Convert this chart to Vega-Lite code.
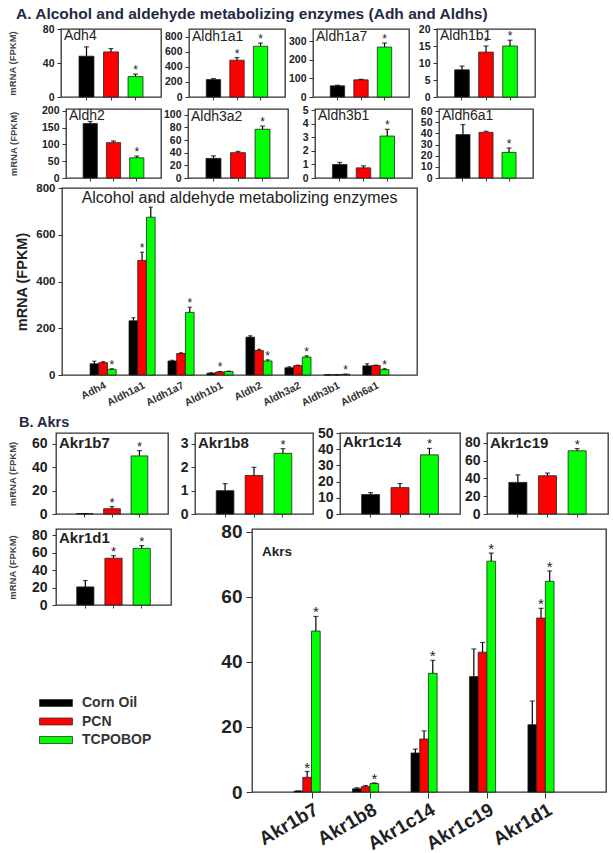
{
"$schema": "https://vega.github.io/schema/vega-lite/v6.json",
"padding": {"left": 0, "top": 6, "right": 0, "bottom": 0},
"config": {
 "font": "Liberation Sans",
 "view": {"stroke": "#333", "strokeWidth": 1.3},
 "axis": {"domain": false, "grid": false, "tickColor": "#333", "tickSize": 4, "labelColor": "#222", "labelFontWeight": "bold", "titleColor": "#333", "titleFontWeight": "bold", "labelPadding": 3},
 "legend": {"orient": "none", "legendX": 48, "legendY": 667, "symbolType": "M-2.5,-0.53H2.5V0.53H-2.5Z", "symbolSize": 174, "symbolStrokeColor": "#333", "symbolStrokeWidth": 0.8, "labelFontSize": 14, "labelFontWeight": "bold", "labelColor": "#333", "labelOffset": 19, "rowPadding": 4.5, "padding": 0},
 "title": {"color": "#222"}
},
"datasets": {"d": [
 {"sec":"A","gene":"Adh4","trt":"Corn Oil","value":48,"upper":59,"star":"","bigstar":""},
 {"sec":"A","gene":"Adh4","trt":"PCN","value":53,"upper":57,"star":"","bigstar":""},
 {"sec":"A","gene":"Adh4","trt":"TCPOBOP","value":24,"upper":27,"star":"*","bigstar":"*"},
 {"sec":"A","gene":"Aldh1a1","trt":"Corn Oil","value":232,"upper":245,"star":"","bigstar":""},
 {"sec":"A","gene":"Aldh1a1","trt":"PCN","value":490,"upper":525,"star":"*","bigstar":"*"},
 {"sec":"A","gene":"Aldh1a1","trt":"TCPOBOP","value":675,"upper":718,"star":"*","bigstar":"*"},
 {"sec":"A","gene":"Aldh1a7","trt":"Corn Oil","value":60,"upper":63,"star":"","bigstar":""},
 {"sec":"A","gene":"Aldh1a7","trt":"PCN","value":92,"upper":95,"star":"","bigstar":""},
 {"sec":"A","gene":"Aldh1a7","trt":"TCPOBOP","value":268,"upper":290,"star":"*","bigstar":"*"},
 {"sec":"A","gene":"Aldh1b1","trt":"Corn Oil","value":8,"upper":9.1,"star":"","bigstar":""},
 {"sec":"A","gene":"Aldh1b1","trt":"PCN","value":13.2,"upper":15,"star":"*","bigstar":"*"},
 {"sec":"A","gene":"Aldh1b1","trt":"TCPOBOP","value":15,"upper":16.7,"star":"*","bigstar":""},
 {"sec":"A","gene":"Aldh2","trt":"Corn Oil","value":162,"upper":168,"star":"","bigstar":""},
 {"sec":"A","gene":"Aldh2","trt":"PCN","value":105,"upper":110,"star":"","bigstar":""},
 {"sec":"A","gene":"Aldh2","trt":"TCPOBOP","value":60,"upper":65,"star":"*","bigstar":"*"},
 {"sec":"A","gene":"Aldh3a2","trt":"Corn Oil","value":31,"upper":35,"star":"","bigstar":""},
 {"sec":"A","gene":"Aldh3a2","trt":"PCN","value":40,"upper":42,"star":"","bigstar":""},
 {"sec":"A","gene":"Aldh3a2","trt":"TCPOBOP","value":77,"upper":82,"star":"*","bigstar":"*"},
 {"sec":"A","gene":"Aldh3b1","trt":"Corn Oil","value":1.0,"upper":1.15,"star":"","bigstar":""},
 {"sec":"A","gene":"Aldh3b1","trt":"PCN","value":0.75,"upper":0.9,"star":"","bigstar":""},
 {"sec":"A","gene":"Aldh3b1","trt":"TCPOBOP","value":3.1,"upper":3.6,"star":"*","bigstar":"*"},
 {"sec":"A","gene":"Aldh6a1","trt":"Corn Oil","value":39,"upper":48,"star":"","bigstar":""},
 {"sec":"A","gene":"Aldh6a1","trt":"PCN","value":41,"upper":42,"star":"","bigstar":""},
 {"sec":"A","gene":"Aldh6a1","trt":"TCPOBOP","value":23,"upper":27,"star":"*","bigstar":"*"},
 {"sec":"B","gene":"Akr1b7","trt":"Corn Oil","value":0.3,"upper":0.3,"star":"","bigstar":""},
 {"sec":"B","gene":"Akr1b7","trt":"PCN","value":4.5,"upper":6.3,"star":"*","bigstar":"*"},
 {"sec":"B","gene":"Akr1b7","trt":"TCPOBOP","value":49.5,"upper":54,"star":"*","bigstar":"*"},
 {"sec":"B","gene":"Akr1b8","trt":"Corn Oil","value":1.0,"upper":1.3,"star":"","bigstar":""},
 {"sec":"B","gene":"Akr1b8","trt":"PCN","value":1.65,"upper":2.0,"star":"","bigstar":""},
 {"sec":"B","gene":"Akr1b8","trt":"TCPOBOP","value":2.6,"upper":2.8,"star":"*","bigstar":"*"},
 {"sec":"B","gene":"Akr1c14","trt":"Corn Oil","value":12,"upper":13.2,"star":"","bigstar":""},
 {"sec":"B","gene":"Akr1c14","trt":"PCN","value":16.3,"upper":18.8,"star":"","bigstar":""},
 {"sec":"B","gene":"Akr1c14","trt":"TCPOBOP","value":36.5,"upper":40.5,"star":"*","bigstar":"*"},
 {"sec":"B","gene":"Akr1c19","trt":"Corn Oil","value":35.5,"upper":44,"star":"","bigstar":""},
 {"sec":"B","gene":"Akr1c19","trt":"PCN","value":43,"upper":46,"star":"","bigstar":""},
 {"sec":"B","gene":"Akr1c19","trt":"TCPOBOP","value":71,"upper":73.5,"star":"*","bigstar":"*"},
 {"sec":"B","gene":"Akr1d1","trt":"Corn Oil","value":20.7,"upper":28,"star":"","bigstar":""},
 {"sec":"B","gene":"Akr1d1","trt":"PCN","value":53.5,"upper":56.5,"star":"*","bigstar":"*"},
 {"sec":"B","gene":"Akr1d1","trt":"TCPOBOP","value":64.8,"upper":68,"star":"*","bigstar":"*"}
]},
"title": {"text": "A. Alcohol and aldehyde metabolizing enzymes (Adh and Aldhs)", "anchor": "start", "frame": "group", "dx": 15, "offset": 1, "fontSize": 15.5, "fontWeight": "bold", "color": "#1f2a44", "baseline": "top"},
"spacing": 6,
"vconcat": [
 {"spacing": -4, "vconcat": [
  {"spacing": 0, "vconcat": [
   {"spacing": 3, "hconcat": [
    {"width": 1, "height": 1, "data": {"values": []}, "mark": "point", "view": {"stroke": "transparent", "fill": "transparent"}},
    {"bounds": "flush", "spacing": 28, "hconcat": [
     {"width": 100, "height": 68, "data": {"name": "d"}, "transform": [{"filter": "datum.gene === 'Adh4'"}],
      "title": {"text": "Adh4", "anchor": "start", "frame": "group", "offset": -19.4, "dx": 3, "fontSize": 14, "fontWeight": "normal", "baseline": "top"},
      "encoding": {"x": {"field": "trt", "type": "nominal", "sort": null, "scale": {"paddingInner": 0.39, "paddingOuter": 0.735}, "axis": {"labels": false, "title": null, "tickSize": 3}},
       "y": {"field": "value", "type": "quantitative", "title": "mRNA (FPKM)", "scale": {"domain": [0, 80], "nice": false}, "axis": {"values": [0, 40, 80], "labelFontSize": 10.5, "titleFontSize": 9.5, "titlePadding": 24.8, "titleColor": "#444"}}},
      "layer": [
       {"mark": {"type": "bar", "stroke": "#222", "strokeWidth": 0.8}, "encoding": {"fill": {"field": "trt", "type": "nominal", "title": null, "scale": {"domain": ["Corn Oil", "PCN", "TCPOBOP"], "range": ["#000000", "#ff0000", "#00ff00"]}}}},
       {"mark": {"type": "rule", "color": "#000", "strokeWidth": 1.2}, "encoding": {"y2": {"field": "upper"}}},
       {"mark": {"type": "tick", "color": "#000", "size": 5, "thickness": 1.2}, "encoding": {"y": {"field": "upper", "type": "quantitative", "title": "mRNA (FPKM)"}}},
       {"mark": {"type": "text", "baseline": "middle", "dy": -4, "fontSize": 12, "color": "#222"}, "encoding": {"y": {"field": "upper", "type": "quantitative", "title": "mRNA (FPKM)"}, "text": {"field": "star"}}}
      ]},
     {"width": 96, "height": 68, "data": {"name": "d"}, "transform": [{"filter": "datum.gene === 'Aldh1a1'"}],
      "title": {"text": "Aldh1a1", "anchor": "start", "frame": "group", "offset": -14.85, "dx": 3, "fontSize": 14, "fontWeight": "normal", "baseline": "top"},
      "encoding": {"x": {"field": "trt", "type": "nominal", "sort": null, "scale": {"paddingInner": 0.39, "paddingOuter": 0.735}, "axis": {"labels": false, "title": null, "tickSize": 3}},
       "y": {"field": "value", "type": "quantitative", "title": null, "scale": {"domain": [0, 905], "nice": false}, "axis": {"values": [0, 200, 400, 600, 800], "labelFontSize": 10.5}}},
      "layer": [
       {"mark": {"type": "bar", "stroke": "#222", "strokeWidth": 0.8}, "encoding": {"fill": {"field": "trt", "type": "nominal", "title": null, "scale": {"domain": ["Corn Oil", "PCN", "TCPOBOP"], "range": ["#000000", "#ff0000", "#00ff00"]}}}},
       {"mark": {"type": "rule", "color": "#000", "strokeWidth": 1.2}, "encoding": {"y2": {"field": "upper"}}},
       {"mark": {"type": "tick", "color": "#000", "size": 5, "thickness": 1.2}, "encoding": {"y": {"field": "upper", "type": "quantitative", "title": null}}},
       {"mark": {"type": "text", "baseline": "middle", "dy": -4, "fontSize": 12, "color": "#222"}, "encoding": {"y": {"field": "upper", "type": "quantitative", "title": null}, "text": {"field": "star"}}}
      ]},
     {"width": 96, "height": 68, "data": {"name": "d"}, "transform": [{"filter": "datum.gene === 'Aldh1a7'"}],
      "title": {"text": "Aldh1a7", "anchor": "start", "frame": "group", "offset": -14.85, "dx": 3, "fontSize": 14, "fontWeight": "normal", "baseline": "top"},
      "encoding": {"x": {"field": "trt", "type": "nominal", "sort": null, "scale": {"paddingInner": 0.39, "paddingOuter": 0.735}, "axis": {"labels": false, "title": null, "tickSize": 3}},
       "y": {"field": "value", "type": "quantitative", "title": null, "scale": {"domain": [0, 365], "nice": false}, "axis": {"values": [0, 100, 200, 300], "labelFontSize": 10.5}}},
      "layer": [
       {"mark": {"type": "bar", "stroke": "#222", "strokeWidth": 0.8}, "encoding": {"fill": {"field": "trt", "type": "nominal", "title": null, "scale": {"domain": ["Corn Oil", "PCN", "TCPOBOP"], "range": ["#000000", "#ff0000", "#00ff00"]}}}},
       {"mark": {"type": "rule", "color": "#000", "strokeWidth": 1.2}, "encoding": {"y2": {"field": "upper"}}},
       {"mark": {"type": "tick", "color": "#000", "size": 5, "thickness": 1.2}, "encoding": {"y": {"field": "upper", "type": "quantitative", "title": null}}},
       {"mark": {"type": "text", "baseline": "middle", "dy": -4, "fontSize": 12, "color": "#222"}, "encoding": {"y": {"field": "upper", "type": "quantitative", "title": null}, "text": {"field": "star"}}}
      ]},
     {"width": 98, "height": 68, "data": {"name": "d"}, "transform": [{"filter": "datum.gene === 'Aldh1b1'"}],
      "title": {"text": "Aldh1b1", "anchor": "start", "frame": "group", "offset": -19.4, "dx": 3, "fontSize": 14, "fontWeight": "normal", "baseline": "top"},
      "encoding": {"x": {"field": "trt", "type": "nominal", "sort": null, "scale": {"paddingInner": 0.39, "paddingOuter": 0.735}, "axis": {"labels": false, "title": null, "tickSize": 3}},
       "y": {"field": "value", "type": "quantitative", "title": null, "scale": {"domain": [0, 20], "nice": false}, "axis": {"values": [0, 5, 10, 15, 20], "labelFontSize": 10.5}}},
      "layer": [
       {"mark": {"type": "bar", "stroke": "#222", "strokeWidth": 0.8}, "encoding": {"fill": {"field": "trt", "type": "nominal", "title": null, "scale": {"domain": ["Corn Oil", "PCN", "TCPOBOP"], "range": ["#000000", "#ff0000", "#00ff00"]}}}},
       {"mark": {"type": "rule", "color": "#000", "strokeWidth": 1.2}, "encoding": {"y2": {"field": "upper"}}},
       {"mark": {"type": "tick", "color": "#000", "size": 5, "thickness": 1.2}, "encoding": {"y": {"field": "upper", "type": "quantitative", "title": null}}},
       {"mark": {"type": "text", "baseline": "middle", "dy": -4, "fontSize": 12, "color": "#222"}, "encoding": {"y": {"field": "upper", "type": "quantitative", "title": null}, "text": {"field": "star"}}}
      ]}
    ]}
   ]},
   {"spacing": 4, "hconcat": [
    {"width": 1, "height": 1, "data": {"values": []}, "mark": "point", "view": {"stroke": "transparent", "fill": "transparent"}},
    {"bounds": "flush", "spacing": 27, "hconcat": [
     {"width": 95, "height": 69, "data": {"name": "d"}, "transform": [{"filter": "datum.gene === 'Aldh2'"}],
      "title": {"text": "Aldh2", "anchor": "start", "frame": "group", "offset": -17.75, "dx": 3, "fontSize": 14, "fontWeight": "normal", "baseline": "top"},
      "encoding": {"x": {"field": "trt", "type": "nominal", "sort": null, "scale": {"paddingInner": 0.39, "paddingOuter": 0.735}, "axis": {"labels": false, "title": null, "tickSize": 3}},
       "y": {"field": "value", "type": "quantitative", "title": "mRNA (FPKM)", "scale": {"domain": [0, 205], "nice": false}, "axis": {"values": [0, 50, 100, 150, 200], "labelFontSize": 10.5, "titleFontSize": 9.5, "titlePadding": 23, "titleColor": "#444"}}},
      "layer": [
       {"mark": {"type": "bar", "stroke": "#222", "strokeWidth": 0.8}, "encoding": {"fill": {"field": "trt", "type": "nominal", "title": null, "scale": {"domain": ["Corn Oil", "PCN", "TCPOBOP"], "range": ["#000000", "#ff0000", "#00ff00"]}}}},
       {"mark": {"type": "rule", "color": "#000", "strokeWidth": 1.2}, "encoding": {"y2": {"field": "upper"}}},
       {"mark": {"type": "tick", "color": "#000", "size": 5, "thickness": 1.2}, "encoding": {"y": {"field": "upper", "type": "quantitative", "title": "mRNA (FPKM)"}}},
       {"mark": {"type": "text", "baseline": "middle", "dy": -4, "fontSize": 12, "color": "#222"}, "encoding": {"y": {"field": "upper", "type": "quantitative", "title": "mRNA (FPKM)"}, "text": {"field": "star"}}}
      ]},
     {"width": 100, "height": 69, "data": {"name": "d"}, "transform": [{"filter": "datum.gene === 'Aldh3a2'"}],
      "title": {"text": "Aldh3a2", "anchor": "start", "frame": "group", "offset": -14.85, "dx": 3, "fontSize": 14, "fontWeight": "normal", "baseline": "top"},
      "encoding": {"x": {"field": "trt", "type": "nominal", "sort": null, "scale": {"paddingInner": 0.39, "paddingOuter": 0.735}, "axis": {"labels": false, "title": null, "tickSize": 3}},
       "y": {"field": "value", "type": "quantitative", "title": null, "scale": {"domain": [0, 109], "nice": false}, "axis": {"values": [0, 20, 40, 60, 80, 100], "labelFontSize": 10.5}}},
      "layer": [
       {"mark": {"type": "bar", "stroke": "#222", "strokeWidth": 0.8}, "encoding": {"fill": {"field": "trt", "type": "nominal", "title": null, "scale": {"domain": ["Corn Oil", "PCN", "TCPOBOP"], "range": ["#000000", "#ff0000", "#00ff00"]}}}},
       {"mark": {"type": "rule", "color": "#000", "strokeWidth": 1.2}, "encoding": {"y2": {"field": "upper"}}},
       {"mark": {"type": "tick", "color": "#000", "size": 5, "thickness": 1.2}, "encoding": {"y": {"field": "upper", "type": "quantitative", "title": null}}},
       {"mark": {"type": "text", "baseline": "middle", "dy": -4, "fontSize": 12, "color": "#222"}, "encoding": {"y": {"field": "upper", "type": "quantitative", "title": null}, "text": {"field": "star"}}}
      ]},
     {"width": 97, "height": 69, "data": {"name": "d"}, "transform": [{"filter": "datum.gene === 'Aldh3b1'"}],
      "title": {"text": "Aldh3b1", "anchor": "start", "frame": "group", "offset": -18.1, "dx": 3, "fontSize": 14, "fontWeight": "normal", "baseline": "top"},
      "encoding": {"x": {"field": "trt", "type": "nominal", "sort": null, "scale": {"paddingInner": 0.39, "paddingOuter": 0.735}, "axis": {"labels": false, "title": null, "tickSize": 3}},
       "y": {"field": "value", "type": "quantitative", "title": null, "scale": {"domain": [0, 5.1], "nice": false}, "axis": {"values": [0, 1, 2, 3, 4, 5], "labelFontSize": 10.5}}},
      "layer": [
       {"mark": {"type": "bar", "stroke": "#222", "strokeWidth": 0.8}, "encoding": {"fill": {"field": "trt", "type": "nominal", "title": null, "scale": {"domain": ["Corn Oil", "PCN", "TCPOBOP"], "range": ["#000000", "#ff0000", "#00ff00"]}}}},
       {"mark": {"type": "rule", "color": "#000", "strokeWidth": 1.2}, "encoding": {"y2": {"field": "upper"}}},
       {"mark": {"type": "tick", "color": "#000", "size": 5, "thickness": 1.2}, "encoding": {"y": {"field": "upper", "type": "quantitative", "title": null}}},
       {"mark": {"type": "text", "baseline": "middle", "dy": -4, "fontSize": 12, "color": "#222"}, "encoding": {"y": {"field": "upper", "type": "quantitative", "title": null}, "text": {"field": "star"}}}
      ]},
     {"width": 94, "height": 69, "data": {"name": "d"}, "transform": [{"filter": "datum.gene === 'Aldh6a1'"}],
      "title": {"text": "Aldh6a1", "anchor": "start", "frame": "group", "offset": -17.25, "dx": 3, "fontSize": 14, "fontWeight": "normal", "baseline": "top"},
      "encoding": {"x": {"field": "trt", "type": "nominal", "sort": null, "scale": {"paddingInner": 0.39, "paddingOuter": 0.735}, "axis": {"labels": false, "title": null, "tickSize": 3}},
       "y": {"field": "value", "type": "quantitative", "title": null, "scale": {"domain": [0, 62], "nice": false}, "axis": {"values": [0, 10, 20, 30, 40, 50, 60], "labelFontSize": 10.5}}},
      "layer": [
       {"mark": {"type": "bar", "stroke": "#222", "strokeWidth": 0.8}, "encoding": {"fill": {"field": "trt", "type": "nominal", "title": null, "scale": {"domain": ["Corn Oil", "PCN", "TCPOBOP"], "range": ["#000000", "#ff0000", "#00ff00"]}}}},
       {"mark": {"type": "rule", "color": "#000", "strokeWidth": 1.2}, "encoding": {"y2": {"field": "upper"}}},
       {"mark": {"type": "tick", "color": "#000", "size": 5, "thickness": 1.2}, "encoding": {"y": {"field": "upper", "type": "quantitative", "title": null}}},
       {"mark": {"type": "text", "baseline": "middle", "dy": -4, "fontSize": 12, "color": "#222"}, "encoding": {"y": {"field": "upper", "type": "quantitative", "title": null}, "text": {"field": "star"}}}
      ]}
    ]}
   ]}
  ]},
  {"spacing": 10, "hconcat": [
   {"width": 1, "height": 1, "data": {"values": []}, "mark": "point", "view": {"stroke": "transparent", "fill": "transparent"}},
   {"width": 355, "height": 187, "data": {"name": "d"}, "transform": [{"filter": "datum.sec === 'A'"}],
    "title": {"text": "Alcohol and aldehyde metabolizing enzymes", "anchor": "middle", "frame": "group", "offset": -23.85, "fontSize": 16, "fontWeight": "normal", "baseline": "top"},
    "encoding": {"x": {"field": "gene", "type": "nominal", "sort": null, "scale": {"paddingInner": 0.33, "paddingOuter": 0.72}, "axis": {"title": null, "ticks": false, "labelAngle": -27, "labelAlign": "right", "labelBaseline": "top", "labelFontSize": 10.5, "labelPadding": 5, "labelColor": "#333"}},
     "xOffset": {"field": "trt", "type": "nominal", "sort": null, "scale": {"paddingInner": 0, "paddingOuter": 0}},
     "y": {"field": "value", "type": "quantitative", "title": "mRNA (FPKM)", "scale": {"domain": [0, 800], "nice": false}, "axis": {"values": [0, 200, 400, 600, 800], "labelFontSize": 11.5, "titleFontSize": 14.5, "titlePadding": 6.3, "titleColor": "#222"}}},
    "layer": [
     {"mark": {"type": "bar", "stroke": "#222", "strokeWidth": 0.8}, "encoding": {"fill": {"field": "trt", "type": "nominal", "title": null, "scale": {"domain": ["Corn Oil", "PCN", "TCPOBOP"], "range": ["#000000", "#ff0000", "#00ff00"]}}}},
     {"mark": {"type": "rule", "color": "#000", "strokeWidth": 1.2}, "encoding": {"y2": {"field": "upper"}}},
     {"mark": {"type": "tick", "color": "#000", "size": 4, "thickness": 1.2}, "encoding": {"y": {"field": "upper", "type": "quantitative", "title": "mRNA (FPKM)"}}},
     {"mark": {"type": "text", "baseline": "middle", "dy": -4, "fontSize": 12, "color": "#222"}, "encoding": {"y": {"field": "upper", "type": "quantitative", "title": "mRNA (FPKM)"}, "text": {"field": "bigstar"}}}
    ]}
  ]}
 ]},
 {"spacing": 0, "vconcat": [
  {"spacing": 3, "hconcat": [
   {"width": 1, "height": 1, "data": {"values": []}, "mark": "point", "view": {"stroke": "transparent", "fill": "transparent"}},
   {"bounds": "flush", "spacing": 27,
    "title": {"text": "B. Akrs", "anchor": "start", "frame": "group", "dx": -37, "offset": -5.3, "fontSize": 14.5, "fontWeight": "bold", "color": "#1f2a44", "baseline": "top"},
    "hconcat": [
    {"width": 112, "height": 81, "data": {"name": "d"}, "transform": [{"filter": "datum.gene === 'Akr1b7'"}],
     "title": {"text": "Akr1b7", "anchor": "start", "frame": "group", "offset": -18.05, "dx": 3, "fontSize": 15, "fontWeight": "bold", "baseline": "top"},
     "encoding": {"x": {"field": "trt", "type": "nominal", "sort": null, "scale": {"paddingInner": 0.39, "paddingOuter": 0.735}, "axis": {"labels": false, "title": null, "tickSize": 3}},
      "y": {"field": "value", "type": "quantitative", "title": "mRNA (FPKM)", "scale": {"domain": [0, 69], "nice": false}, "axis": {"values": [0, 20, 40, 60], "labelFontSize": 14, "labelPadding": 5, "titleFontSize": 9.5, "titlePadding": 13.9, "titleColor": "#444"}}},
     "layer": [
      {"mark": {"type": "bar", "stroke": "#222", "strokeWidth": 0.8}, "encoding": {"fill": {"field": "trt", "type": "nominal", "title": null, "scale": {"domain": ["Corn Oil", "PCN", "TCPOBOP"], "range": ["#000000", "#ff0000", "#00ff00"]}}}},
      {"mark": {"type": "rule", "color": "#000", "strokeWidth": 1.2}, "encoding": {"y2": {"field": "upper"}}},
      {"mark": {"type": "tick", "color": "#000", "size": 5, "thickness": 1.2}, "encoding": {"y": {"field": "upper", "type": "quantitative", "title": "mRNA (FPKM)"}}},
      {"mark": {"type": "text", "baseline": "middle", "dy": -4, "fontSize": 13, "color": "#222"}, "encoding": {"y": {"field": "upper", "type": "quantitative", "title": "mRNA (FPKM)"}, "text": {"field": "star"}}}
     ]},
    {"width": 118, "height": 81, "data": {"name": "d"}, "transform": [{"filter": "datum.gene === 'Akr1b8'"}],
     "title": {"text": "Akr1b8", "anchor": "start", "frame": "group", "offset": -18.05, "dx": 3, "fontSize": 15, "fontWeight": "bold", "baseline": "top"},
     "encoding": {"x": {"field": "trt", "type": "nominal", "sort": null, "scale": {"paddingInner": 0.39, "paddingOuter": 0.735}, "axis": {"labels": false, "title": null, "tickSize": 3}},
      "y": {"field": "value", "type": "quantitative", "title": null, "scale": {"domain": [0, 3.47], "nice": false}, "axis": {"values": [0, 1, 2, 3], "labelFontSize": 14, "labelPadding": 3}}},
     "layer": [
      {"mark": {"type": "bar", "stroke": "#222", "strokeWidth": 0.8}, "encoding": {"fill": {"field": "trt", "type": "nominal", "title": null, "scale": {"domain": ["Corn Oil", "PCN", "TCPOBOP"], "range": ["#000000", "#ff0000", "#00ff00"]}}}},
      {"mark": {"type": "rule", "color": "#000", "strokeWidth": 1.2}, "encoding": {"y2": {"field": "upper"}}},
      {"mark": {"type": "tick", "color": "#000", "size": 5, "thickness": 1.2}, "encoding": {"y": {"field": "upper", "type": "quantitative", "title": null}}},
      {"mark": {"type": "text", "baseline": "middle", "dy": -4, "fontSize": 13, "color": "#222"}, "encoding": {"y": {"field": "upper", "type": "quantitative", "title": null}, "text": {"field": "star"}}}
     ]},
    {"width": 120, "height": 81, "data": {"name": "d"}, "transform": [{"filter": "datum.gene === 'Akr1c14'"}],
     "title": {"text": "Akr1c14", "anchor": "start", "frame": "group", "offset": -24.4, "dx": 3, "fontSize": 15, "fontWeight": "bold", "baseline": "top"},
     "encoding": {"x": {"field": "trt", "type": "nominal", "sort": null, "scale": {"paddingInner": 0.39, "paddingOuter": 0.735}, "axis": {"labels": false, "title": null, "tickSize": 3}},
      "y": {"field": "value", "type": "quantitative", "title": null, "scale": {"domain": [0, 50], "nice": false}, "axis": {"values": [0, 10, 20, 30, 40, 50], "labelFontSize": 14, "labelPadding": 3}}},
     "layer": [
      {"mark": {"type": "bar", "stroke": "#222", "strokeWidth": 0.8}, "encoding": {"fill": {"field": "trt", "type": "nominal", "title": null, "scale": {"domain": ["Corn Oil", "PCN", "TCPOBOP"], "range": ["#000000", "#ff0000", "#00ff00"]}}}},
      {"mark": {"type": "rule", "color": "#000", "strokeWidth": 1.2}, "encoding": {"y2": {"field": "upper"}}},
      {"mark": {"type": "tick", "color": "#000", "size": 5, "thickness": 1.2}, "encoding": {"y": {"field": "upper", "type": "quantitative", "title": null}}},
      {"mark": {"type": "text", "baseline": "middle", "dy": -4, "fontSize": 13, "color": "#222"}, "encoding": {"y": {"field": "upper", "type": "quantitative", "title": null}, "text": {"field": "star"}}}
     ]},
    {"width": 121, "height": 81, "data": {"name": "d"}, "transform": [{"filter": "datum.gene === 'Akr1c19'"}],
     "title": {"text": "Akr1c19", "anchor": "start", "frame": "group", "offset": -18.05, "dx": 3, "fontSize": 15, "fontWeight": "bold", "baseline": "top"},
     "encoding": {"x": {"field": "trt", "type": "nominal", "sort": null, "scale": {"paddingInner": 0.39, "paddingOuter": 0.735}, "axis": {"labels": false, "title": null, "tickSize": 3}},
      "y": {"field": "value", "type": "quantitative", "title": null, "scale": {"domain": [0, 91], "nice": false}, "axis": {"values": [0, 20, 40, 60, 80], "labelFontSize": 14, "labelPadding": 3}}},
     "layer": [
      {"mark": {"type": "bar", "stroke": "#222", "strokeWidth": 0.8}, "encoding": {"fill": {"field": "trt", "type": "nominal", "title": null, "scale": {"domain": ["Corn Oil", "PCN", "TCPOBOP"], "range": ["#000000", "#ff0000", "#00ff00"]}}}},
      {"mark": {"type": "rule", "color": "#000", "strokeWidth": 1.2}, "encoding": {"y2": {"field": "upper"}}},
      {"mark": {"type": "tick", "color": "#000", "size": 5, "thickness": 1.2}, "encoding": {"y": {"field": "upper", "type": "quantitative", "title": null}}},
      {"mark": {"type": "text", "baseline": "middle", "dy": -4, "fontSize": 13, "color": "#222"}, "encoding": {"y": {"field": "upper", "type": "quantitative", "title": null}, "text": {"field": "star"}}}
     ]}
   ]}
  ]},
  {"spacing": 3, "hconcat": [
   {"width": 1, "height": 1, "data": {"values": []}, "mark": "point", "view": {"stroke": "transparent", "fill": "transparent"}},
   {"bounds": "flush", "spacing": 81, "hconcat": [
    {"width": 115, "height": 76, "data": {"name": "d"}, "transform": [{"filter": "datum.gene === 'Akr1d1'"}],
     "title": {"text": "Akr1d1", "anchor": "start", "frame": "group", "offset": -17.5, "dx": 3, "fontSize": 15, "fontWeight": "bold", "baseline": "top"},
     "encoding": {"x": {"field": "trt", "type": "nominal", "sort": null, "scale": {"paddingInner": 0.39, "paddingOuter": 0.735}, "axis": {"labels": false, "title": null, "tickSize": 3}},
      "y": {"field": "value", "type": "quantitative", "title": "mRNA (FPKM)", "scale": {"domain": [0, 87], "nice": false}, "axis": {"values": [0, 20, 40, 60, 80], "labelFontSize": 14, "labelPadding": 5, "titleFontSize": 9.5, "titlePadding": 13.9, "titleColor": "#444"}}},
     "layer": [
      {"mark": {"type": "bar", "stroke": "#222", "strokeWidth": 0.8}, "encoding": {"fill": {"field": "trt", "type": "nominal", "title": null, "scale": {"domain": ["Corn Oil", "PCN", "TCPOBOP"], "range": ["#000000", "#ff0000", "#00ff00"]}}}},
      {"mark": {"type": "rule", "color": "#000", "strokeWidth": 1.2}, "encoding": {"y2": {"field": "upper"}}},
      {"mark": {"type": "tick", "color": "#000", "size": 5, "thickness": 1.2}, "encoding": {"y": {"field": "upper", "type": "quantitative", "title": "mRNA (FPKM)"}}},
      {"mark": {"type": "text", "baseline": "middle", "dy": -4, "fontSize": 13, "color": "#222"}, "encoding": {"y": {"field": "upper", "type": "quantitative", "title": "mRNA (FPKM)"}, "text": {"field": "star"}}}
     ]},
    {"width": 354, "height": 263, "data": {"name": "d"}, "transform": [{"filter": "datum.sec === 'B'"}],
     "title": {"text": "Akrs", "anchor": "start", "frame": "group", "offset": -35.7, "dx": 10, "fontSize": 13.5, "fontWeight": "bold", "baseline": "top"},
     "encoding": {"x": {"field": "gene", "type": "nominal", "sort": null, "scale": {"paddingInner": 0.385, "paddingOuter": 0.72}, "axis": {"title": null, "tickSize": 6, "labelAngle": -30, "labelAlign": "right", "labelBaseline": "top", "labelFontSize": 19, "labelPadding": 2}},
      "xOffset": {"field": "trt", "type": "nominal", "sort": null, "scale": {"paddingInner": 0, "paddingOuter": 0}},
      "y": {"field": "value", "type": "quantitative", "title": null, "scale": {"domain": [0, 80.9], "nice": false}, "axis": {"values": [0, 20, 40, 60, 80], "labelFontSize": 19, "tickSize": 6, "labelPadding": 4}}},
     "layer": [
      {"mark": {"type": "bar", "stroke": "#222", "strokeWidth": 0.8}, "encoding": {"fill": {"field": "trt", "type": "nominal", "title": null, "scale": {"domain": ["Corn Oil", "PCN", "TCPOBOP"], "range": ["#000000", "#ff0000", "#00ff00"]}}}},
      {"mark": {"type": "rule", "color": "#000", "strokeWidth": 1.2}, "encoding": {"y2": {"field": "upper"}}},
      {"mark": {"type": "tick", "color": "#000", "size": 5, "thickness": 1.2}, "encoding": {"y": {"field": "upper", "type": "quantitative", "title": null}}},
      {"mark": {"type": "text", "baseline": "middle", "dy": -4, "fontSize": 15, "color": "#222"}, "encoding": {"y": {"field": "upper", "type": "quantitative", "title": null}, "text": {"field": "bigstar"}}}
     ]}
   ]}
  ]}
 ]}
]
}
